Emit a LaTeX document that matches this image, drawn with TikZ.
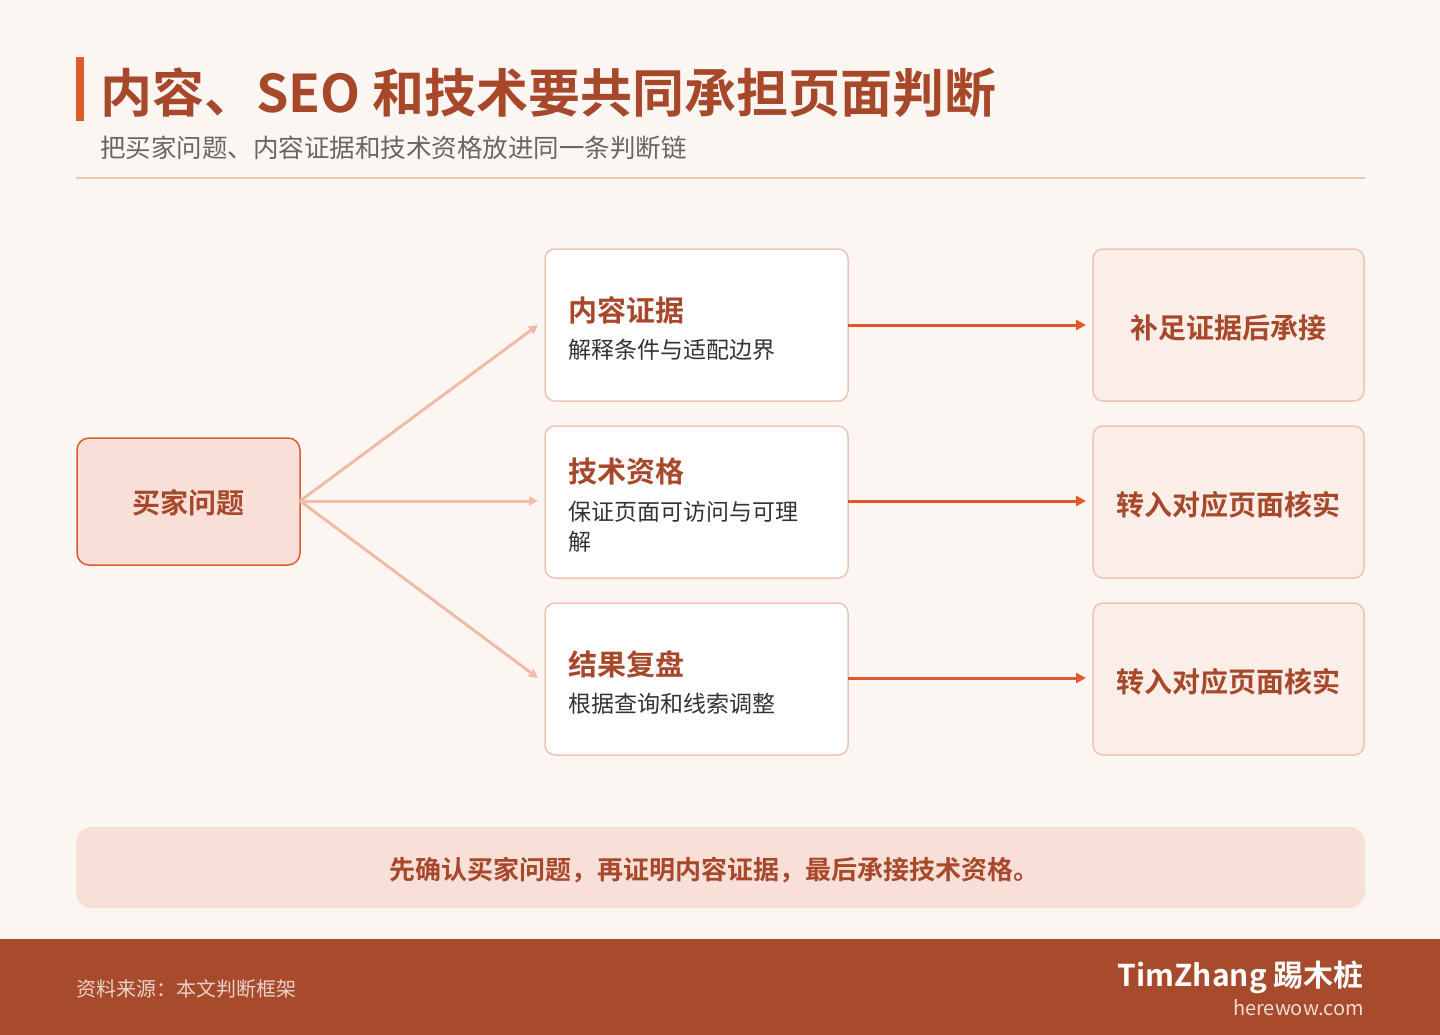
\documentclass[tikz,border=0pt]{standalone}
\usepackage{fontspec}
\setmainfont{Noto Sans CJK SC}
\newfontfamily\cjkb{Noto Sans CJK SC Bold}
\usetikzlibrary{arrows.meta}
\definecolor{bg}{HTML}{FCF6F3}
\definecolor{acc}{HTML}{E05A2B}
\definecolor{dark}{HTML}{A8482B}
\definecolor{pinkf}{HTML}{F8E0D8}
\definecolor{bord}{HTML}{F0C4B4}
\definecolor{rfill}{HTML}{FBEEE8}
\definecolor{larr}{HTML}{F0BBA8}
\definecolor{foot}{HTML}{A84A2C}
\newcommand{\fs}[1]{\fontsize{#1pt}{#1pt}\selectfont}
\begin{document}
\begin{tikzpicture}[x=1pt,y=-1pt,
  mid/.style={draw=bord,line width=1.5pt,fill=white,rounded corners=10pt},
  rt/.style={draw=bord,line width=1.5pt,fill=rfill,rounded corners=10pt},
  la/.style={draw=larr,line width=3pt,-{Triangle[length=9pt,width=9pt]}},
  ra/.style={draw=acc,line width=3pt,-{Triangle[length=10pt,width=10pt]}},
  ttl/.style={anchor=west,text=dark,font=\cjkb\fs{29},inner sep=0},
  sub/.style={anchor=west,text=black!80,font=\fs{23},inner sep=0},
  rtx/.style={text=dark,font=\cjkb\fs{28}}]
\useasboundingbox (0,0) rectangle (1440,1035);
\fill[bg] (0,0) rectangle (1440,1035);
\fill[acc] (76,57) rectangle (84,121);
\node[anchor=west,text=dark,font=\cjkb\fs{52},inner sep=0] (title) at (100,93) {内容、SEO 和技术要共同承担页面判断};
\node[anchor=west,text=black!60,font=\fs{25.5},inner sep=0] (subt) at (100,148) {把买家问题、内容证据和技术资格放进同一条判断链};
\draw[bord,line width=1.5pt] (76,178) -- (1365,178);
% left
\draw[draw=acc,line width=1.5pt,fill=pinkf,rounded corners=12pt] (77,438) rectangle (300,565);
\node[rtx] (buyer) at (188,503) {买家问题};
\coordinate (L) at (300,501);
% middle
\draw[mid] (545,249) rectangle (848,401);
\draw[mid] (545,426) rectangle (848,578);
\draw[mid] (545,603) rectangle (848,755);
\node[ttl] (m1) at (568,310) {内容证据};
\node[sub] (m1s) at (568,350) {解释条件与适配边界};
\node[ttl] (m2) at (568,471) {技术资格};
\node[sub] (m2s) at (568,512) {保证页面可访问与可理};
\node[sub] (m2t) at (568,542) {解};
\node[ttl] (m3) at (568,664) {结果复盘};
\node[sub] (m3s) at (568,704) {根据查询和线索调整};
% right
\draw[rt] (1093,249) rectangle (1364,401);
\draw[rt] (1093,426) rectangle (1364,578);
\draw[rt] (1093,603) rectangle (1364,755);
\node[rtx] (r1) at (1228,328) {补足证据后承接};
\node[rtx] (r2) at (1228,505) {转入对应页面核实};
\node[rtx] (r3) at (1228,682) {转入对应页面核实};
\coordinate (a1) at (538,325); \coordinate (a2) at (538,501); \coordinate (a3) at (538,678);
\draw[la] (L) -- (a1); \draw[la] (L) -- (a2); \draw[la] (L) -- (a3);
\coordinate (b1) at (848,325); \coordinate (c1) at (1086,325);
\coordinate (b2) at (848,501); \coordinate (c2) at (1086,501);
\coordinate (b3) at (848,678); \coordinate (c3) at (1086,678);
\draw[ra] (b1) -- (c1); \draw[ra] (b2) -- (c2); \draw[ra] (b3) -- (c3);
% banner
\fill[pinkf,rounded corners=16pt] (76,827) rectangle (1365,908);
\node[text=dark,font=\cjkb\fs{26}] (note) at (714,870) {先确认买家问题，再证明内容证据，最后承接技术资格。};
% footer
\fill[foot] (0,939) rectangle (1440,1035);
\node[anchor=west,text=white!75!foot,font=\fs{20},inner sep=0] (src) at (76,989) {资料来源：本文判断框架};
\node[anchor=east,text=white,font=\cjkb\fs{30},inner sep=0] (brand) at (1364,977) {TimZhang 踢木桩};
\node[anchor=east,text=white!80!foot,font=\fs{20},inner sep=0] (site) at (1364,1008) {herewow.com};
\end{tikzpicture}
\end{document}
